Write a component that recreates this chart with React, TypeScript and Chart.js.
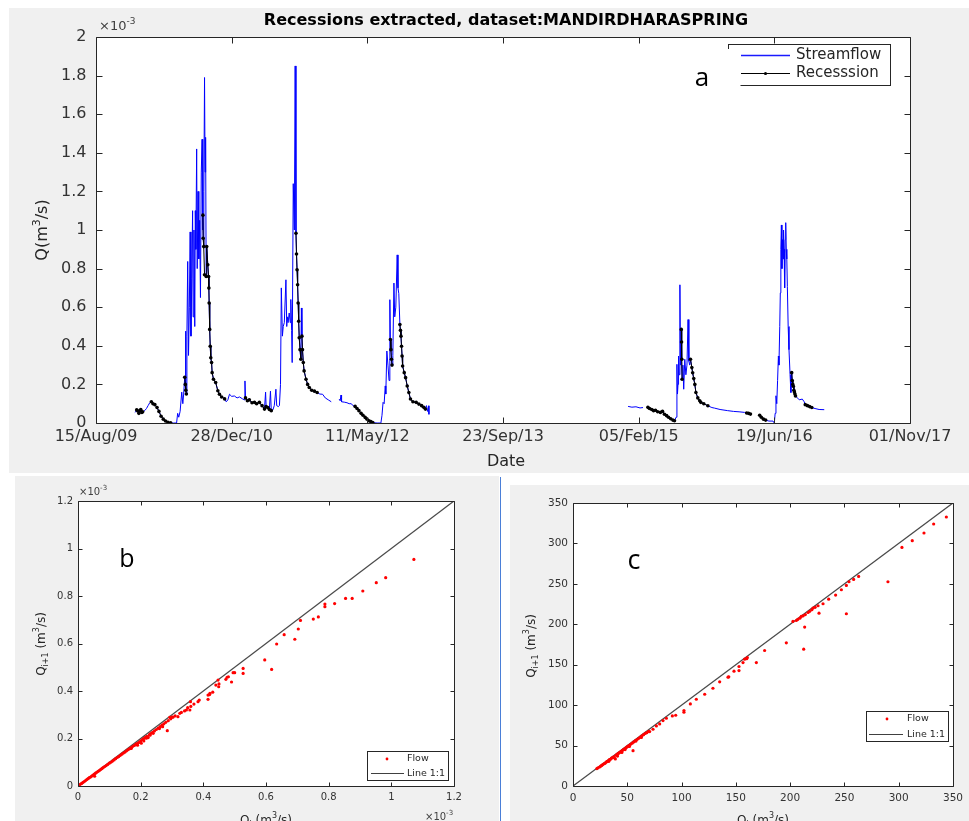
import React, { useEffect, useRef } from 'react';
import { Chart, registerables } from 'chart.js';

Chart.register(...registerables);

const FONT = '"DejaVu Sans", "Liberation Sans", sans-serif';
const LETTER_FONT = '"Open Sans", "Lato", sans-serif';
const AXIS = '#262626';
const TICK_TEXT = '#333333';
const PANEL_BG = '#f0f0f0';

// ---------- Panel a: daily streamflow, x = days since 15/Aug/09, y = Q in 1e-3 m3/s ----------
const dateTickLabels = ['15/Aug/09', '28/Dec/10', '11/May/12', '23/Sep/13', '05/Feb/15', '19/Jun/16', '01/Nov/17'];
const flowTickLabels = ['0', '0.2', '0.4', '0.6', '0.8', '1', '1.2', '1.4', '1.6', '1.8', '2'];

const streamflow: Array<[number, number | null]> = [
  [143, 0.055], [147, 0.06], [150, 0.068], [154, 0.062], [158, 0.05], [162, 0.065], [165, 0.07], [169, 0.055],
  [172, 0.058], [176, 0.06], [180, 0.065], [186, 0.075], [192, 0.09], [198, 0.105], [204, 0.11], [210, 0.1],
  [217, 0.095], [225, 0.08], [232, 0.06], [240, 0.035], [248, 0.02], [256, 0.01], [265, 0.004], [275, 0.001],
  [285, 0], [297, 0], [301, 0.05], [305, 0.03], [310, 0.06], [316, 0.16], [320, 0.1], [323, 0.15],
  [327, 0.237], [329, 0.2], [330, 0.476], [331, 0.17], [333, 0.15], [335, 0.45], [338, 0.837], [341, 0.35],
  [344, 0.6], [347, 0.99], [350, 0.45], [353, 0.75], [356, 1.1], [358, 0.55], [361, 1.0], [364, 0.5],
  [366, 1.1], [368, 0.9], [371, 1.42], [373, 0.8], [376, 1.2], [379, 0.85], [382, 1.05], [385, 0.65],
  [388, 1.3], [391, 1.47], [393, 1.0], [394, 1.077], [395, 0.957], [397, 0.914], [398, 1.2], [400, 1.79],
  [402, 1.3], [404, 1.48], [406, 0.759], [408, 0.914], [412, 0.82], [415, 0.759], [416, 0.699], [417, 0.622],
  [419, 0.485], [421, 0.398], [423, 0.338], [426, 0.313], [428, 0.261], [433, 0.227], [441, 0.21], [449, 0.167],
  [455, 0.149], [463, 0.135], [474, 0.125], [480, 0.11], [486, 0.12], [492, 0.149], [500, 0.138], [510, 0.14],
  [520, 0.13], [529, 0.135], [540, 0.125], [547, 0.12], [549, 0.218], [551, 0.13], [558, 0.115], [565, 0.12],
  [575, 0.105], [584, 0.107], [592, 0.1], [602, 0.107], [612, 0.09], [621, 0.072], [625, 0.16], [627, 0.085],
  [633, 0.08], [639, 0.07], [643, 0.165], [646, 0.064], [652, 0.068], [657, 0.09], [663, 0.175], [666, 0.09],
  [672, 0.085], [676, 0.09], [680, 0.2], [683, 0.7], [687, 0.45], [690, 0.5], [694, 0.52], [700, 0.742],
  [703, 0.5], [705, 0.55], [708, 0.52], [712, 0.57], [716, 0.52], [718, 0.64], [721, 0.48], [723, 0.313],
  [727, 1.24], [731, 1.0], [734, 1.85], [737, 0.983], [739, 0.876], [741, 0.794], [743, 0.716], [745, 0.622],
  [747, 0.527], [749, 0.442], [752, 0.38], [755, 0.33], [757, 0.596], [759, 0.45], [761, 0.38], [764, 0.313],
  [767, 0.27], [774, 0.227], [780, 0.2], [786, 0.184], [795, 0.17], [805, 0.165], [815, 0.158], [825, 0.15],
  [835, 0.149], [845, 0.13], [856, 0.12], [867, 0.11], [880, null],
  [896, 0.124], [900, 0.115], [903, 0.145], [905, 0.11], [915, 0.108], [925, 0.105], [933, 0.1], [940, 0.1],
  [948, 0.09], [955, 0.086], [962, 0.075], [969, 0.064], [977, 0.05], [984, 0.04], [992, 0.029], [999, 0.02],
  [1006, 0.012], [1013, 0.007], [1020, 0.002], [1036, 0], [1050, 0], [1054, 0.04], [1058, 0.107], [1062, 0.1],
  [1066, 0.192], [1068, 0.15], [1072, 0.373], [1076, 0.3], [1080, 0.22], [1083, 0.639], [1085, 0.433], [1087, 0.38],
  [1089, 0.33], [1091, 0.3], [1094, 0.35], [1098, 0.725], [1101, 0.55], [1105, 0.6], [1110, 0.871], [1113, 0.7],
  [1116, 0.67], [1120, 0.51], [1122, 0.48], [1124, 0.45], [1126, 0.398], [1128, 0.347], [1130, 0.295], [1136, 0.261],
  [1141, 0.235], [1147, 0.192], [1153, 0.158], [1159, 0.124], [1168, 0.11], [1180, 0.107], [1190, 0.098], [1200, 0.09],
  [1208, 0.081], [1214, 0.072], [1218, 0.09], [1222, 0.06], [1226, 0.089], [1227, 0.045], [1600, null],
  [1961, 0.086], [1975, 0.082], [1990, 0.084], [2005, 0.078], [2016, 0.08], [2025, null],
  [2034, 0.081], [2040, 0.075], [2048, 0.07], [2055, 0.064], [2062, 0.066], [2070, 0.058], [2080, 0.055], [2088, 0.06],
  [2095, 0.045], [2103, 0.038], [2110, 0.03], [2118, 0.022], [2126, 0.015], [2132, 0.012], [2138, 0.03], [2141, 0.304],
  [2143, 0.15], [2145, 0.2], [2147, 0.347], [2149, 0.25], [2152, 0.716], [2154, 0.3], [2157, 0.485], [2158, 0.42],
  [2159, 0.33], [2160, 0.227], [2163, 0.3], [2166, 0.175], [2170, 0.33], [2174, 0.25], [2178, 0.3], [2182, 0.536],
  [2185, 0.32], [2188, 0.3], [2191, 0.33], [2196, 0.287], [2199, 0.26], [2203, 0.23], [2207, 0.2], [2211, 0.158],
  [2218, 0.13], [2225, 0.115], [2229, 0.107], [2240, 0.1], [2255, 0.089], [2270, 0.08], [2280, 0.077], [2300, 0.07],
  [2328, 0.064], [2350, 0.06], [2370, 0.058], [2390, 0.055], [2398, 0.052], [2405, 0.05], [2412, 0.046], [2430, null],
  [2446, 0.04], [2452, 0.03], [2460, 0.02], [2468, 0.015], [2480, 0.01], [2495, 0.01], [2500, 0], [2503, 0.05],
  [2506, 0.141], [2509, 0.1], [2512, 0.22], [2515, 0.347], [2517, 0.3], [2520, 0.5], [2522, 0.674], [2524, 0.9],
  [2526, 1.026], [2528, 0.8], [2530, 0.95], [2532, 0.85], [2534, 1.0], [2536, 0.9], [2538, 0.7], [2540, 0.95],
  [2542, 1.038], [2544, 0.9], [2546, 0.85], [2548, 0.708], [2551, 0.5], [2554, 0.38], [2558, 0.25], [2561, 0.158],
  [2564, 0.261], [2566, 0.22], [2568, 0.2], [2570, 0.19], [2572, 0.17], [2574, 0.16], [2576, 0.15], [2578, 0.14],
  [2585, 0.13], [2592, 0.12], [2603, 0.124], [2610, 0.11], [2614, 0.095], [2622, 0.09], [2630, 0.085], [2638, 0.08],
  [2650, 0.075], [2665, 0.07], [2684, 0.069],
];

// Extracted recession limbs (null separates the individual recessions)
const recession: Array<[number, number | null]> = [
  [150, 0.068], [154, 0.062], [158, 0.05], [162, 0.065], [165, 0.07], [169, 0.055], [172, 0.058], [188, null],
  [204, 0.11], [210, 0.1], [217, 0.095], [225, 0.08], [232, 0.06], [240, 0.035], [248, 0.02], [256, 0.01],
  [265, 0.004], [275, 0.001], [300, null],
  [327, 0.237], [329, 0.2], [331, 0.17], [333, 0.15], [360, null],
  [394, 1.077], [395, 0.957], [397, 0.914], [400, 0.768], [406, 0.759], [408, 0.914], [412, 0.82], [415, 0.759],
  [416, 0.699], [417, 0.622], [419, 0.485], [421, 0.398], [423, 0.338], [426, 0.313], [428, 0.261], [433, 0.227],
  [441, 0.21], [449, 0.167], [455, 0.149], [463, 0.135], [474, 0.125], [510, null],
  [551, 0.13], [558, 0.115], [565, 0.12], [575, 0.105], [584, 0.107], [592, 0.1], [602, 0.107], [612, 0.09],
  [621, 0.072], [627, 0.085], [633, 0.08], [639, 0.07], [646, 0.064], [700, null],
  [737, 0.983], [739, 0.876], [741, 0.794], [743, 0.716], [745, 0.622], [747, 0.527], [749, 0.442], [752, 0.38],
  [755, 0.33], [757, null],
  [759, 0.45], [761, 0.38], [764, 0.313], [767, 0.27], [774, 0.227], [780, 0.2], [786, 0.184], [795, 0.17],
  [805, 0.165], [815, 0.158], [900, null],
  [955, 0.086], [962, 0.075], [969, 0.064], [977, 0.05], [984, 0.04], [992, 0.029], [999, 0.02], [1006, 0.012],
  [1013, 0.007], [1020, 0.002], [1050, null],
  [1085, 0.433], [1087, 0.38], [1089, 0.33], [1091, 0.3], [1100, null],
  [1120, 0.51], [1122, 0.48], [1124, 0.45], [1126, 0.398], [1128, 0.347], [1130, 0.295], [1136, 0.261], [1141, 0.235],
  [1147, 0.192], [1153, 0.158], [1159, 0.124], [1168, 0.11], [1180, 0.107], [1190, 0.098], [1200, 0.09], [1208, 0.081],
  [1214, 0.072], [1600, null],
  [2034, 0.081], [2040, 0.075], [2048, 0.07], [2055, 0.064], [2062, 0.066], [2070, 0.058], [2080, 0.055], [2088, 0.06],
  [2095, 0.045], [2103, 0.038], [2110, 0.03], [2118, 0.022], [2126, 0.015], [2132, 0.012], [2140, null],
  [2157, 0.485], [2158, 0.42], [2159, 0.33], [2160, 0.227], [2175, null],
  [2191, 0.33], [2196, 0.287], [2199, 0.26], [2203, 0.23], [2207, 0.2], [2211, 0.158], [2218, 0.13], [2225, 0.115],
  [2229, 0.107], [2240, 0.1], [2255, 0.089], [2300, null],
  [2398, 0.052], [2405, 0.05], [2412, 0.046], [2430, null],
  [2446, 0.04], [2452, 0.03], [2460, 0.02], [2468, 0.015], [2500, null],
  [2564, 0.261], [2566, 0.22], [2568, 0.2], [2570, 0.19], [2572, 0.17], [2574, 0.16], [2576, 0.15], [2578, 0.14],
  [2600, null],
  [2614, 0.095], [2622, 0.09], [2630, 0.085], [2638, 0.08],
];

// ---------- Panel b: Q(i) vs Q(i+1), units 1e-3 m3/s ----------
const smallTickLabels = ['0', '0.2', '0.4', '0.6', '0.8', '1', '1.2'];
const pairsSmall: Array<[number, number]> = [
  [1.072, 0.954], [0.982, 0.877], [0.952, 0.856], [0.909, 0.821], [0.875, 0.79], [0.854, 0.79], [0.819, 0.768],
  [0.788, 0.766], [0.788, 0.755], [0.767, 0.712], [0.751, 0.703], [0.71, 0.697], [0.703, 0.661], [0.692, 0.618],
  [0.658, 0.637], [0.634, 0.598], [0.596, 0.531], [0.618, 0.491], [0.527, 0.495], [0.527, 0.474], [0.5, 0.477],
  [0.495, 0.477], [0.49, 0.438], [0.476, 0.458], [0.472, 0.449], [0.449, 0.418], [0.44, 0.425], [0.447, 0.446],
  [0.421, 0.39], [0.415, 0.383], [0.415, 0.365], [0.387, 0.362], [0.383, 0.355], [0.359, 0.355], [0.357, 0.32],
  [0.346, 0.32], [0.325, 0.306], [0.319, 0.292], [0.293, 0.289], [0.285, 0.233], [0.218, 0.201], [0.24, 0.222],
  [0.37, 0.345], [0.36, 0.335], [0.34, 0.316], [0.33, 0.31], [0.31, 0.295], [0.3, 0.29], [0.35, 0.33],
  [0.42, 0.385], [0.43, 0.395], [0.45, 0.43], [0.48, 0.46],
  [0.004, 0.004], [0.008, 0.008], [0.012, 0.011], [0.016, 0.015], [0.02, 0.019], [0.024, 0.023], [0.028, 0.027],
  [0.032, 0.031], [0.036, 0.035], [0.04, 0.038], [0.044, 0.042], [0.048, 0.046], [0.052, 0.05], [0.053, 0.041],
  [0.056, 0.054], [0.06, 0.058], [0.064, 0.062], [0.068, 0.065], [0.072, 0.069], [0.076, 0.073], [0.08, 0.077],
  [0.085, 0.082], [0.09, 0.086], [0.095, 0.091], [0.1, 0.096], [0.105, 0.1], [0.11, 0.105], [0.115, 0.11],
  [0.12, 0.115], [0.125, 0.12], [0.13, 0.124], [0.135, 0.129], [0.14, 0.134], [0.145, 0.139], [0.15, 0.143],
  [0.155, 0.148], [0.16, 0.153], [0.165, 0.157], [0.17, 0.162], [0.175, 0.167], [0.18, 0.171], [0.185, 0.176],
  [0.19, 0.18], [0.195, 0.184], [0.2, 0.19], [0.202, 0.18], [0.206, 0.196], [0.21, 0.2], [0.215, 0.205],
  [0.22, 0.209], [0.224, 0.204], [0.228, 0.216], [0.232, 0.221], [0.238, 0.226], [0.244, 0.232], [0.25, 0.238],
  [0.256, 0.244], [0.262, 0.25], [0.268, 0.256], [0.274, 0.262], [0.28, 0.268], [0.288, 0.275], [0.296, 0.283],
  [0.303, 0.29], [0.17, 0.158], [0.19, 0.172], [0.21, 0.19], [0.23, 0.214], [0.26, 0.242], [0.27, 0.25],
];

// ---------- Panel c: Q(i) vs Q(i+1), m3/s ----------
const largeTickLabels = ['0', '50', '100', '150', '200', '250', '300', '350'];
const pairsLarge: Array<[number, number]> = [
  [343.9, 332.7], [332.2, 324], [323.3, 312.9], [312.5, 303.4], [303, 295.1], [290.1, 252.6], [263.1, 259.2],
  [258.5, 255.5], [254.2, 252.6], [251.8, 248], [247.2, 242.7], [241.9, 236.1], [235.5, 231.1], [230.3, 225.4],
  [225.7, 222.9], [226.6, 213.8], [251.8, 213], [221.1, 220], [216.5, 214.6], [210.3, 209.7], [205.7, 204.7],
  [202.6, 203.5], [213.4, 196.5], [212.5, 169.2], [196.5, 177.1], [176.5, 167.6], [168.9, 152.7], [160.6, 158.9],
  [158.1, 156.8], [156.6, 152.7], [152.9, 147.8], [152.9, 142.8], [148.3, 142], [142.8, 134.6], [135.1, 128.8],
  [128.9, 120.9], [121.3, 113.5], [113.6, 107.3], [108.1, 101.5], [102.2, 93.3], [102.2, 91.2], [94.6, 87.5],
  [91.5, 86.7], [86, 83.8], [82.9, 80.9], [79.8, 76.8], [76.8, 74.3], [73.7, 70.2], [70.6, 67.3], [55.3, 43.7],
  [207, 206], [209, 207.5], [212, 210.5], [214, 212], [218, 216], [220, 218], [223, 221], [143.5, 135], [160, 157.5],
  [22, 21.5], [23, 22.5], [24.5, 23.5], [25.5, 24.5], [26.5, 25.5], [27.5, 26.5], [28.5, 27.5], [29.5, 28],
  [30.5, 29.5], [31.5, 30.5], [32.5, 31], [33.5, 32.5], [34.5, 33], [35.5, 34.5], [36.5, 35], [37.5, 36],
  [39, 33.5], [39.5, 38], [40.5, 39], [41.5, 40], [42.5, 41], [43.5, 42], [44.5, 43], [45.5, 44], [46.5, 45],
  [47.5, 46], [48.5, 47], [49.5, 48], [50.5, 49], [51.5, 50], [53, 51.5], [54.5, 53], [56, 54.5], [57.5, 56],
  [59, 57.5], [60.5, 59], [62, 60.5], [63.5, 62], [65, 63.5], [66.5, 65], [68, 66], [69.5, 67.5], [41, 37],
  [45, 41.5], [38, 35], [33, 30.5], [48, 45], [52, 49], [58, 55.5], [63, 60],
];

// ---------- drawing helpers ----------
type Part = { t: string; s: number; dy?: number; bold?: boolean; fam?: string };
type TextItem = { parts: Part[]; x: number; y: number; align: 'left' | 'center' | 'right'; rot?: number; color?: string };

function drawRich(ctx: CanvasRenderingContext2D, item: TextItem) {
  const fontOf = (p: Part) => `${p.bold ? 'bold ' : ''}${p.s}px ${p.fam ?? FONT}`;
  ctx.save();
  ctx.translate(item.x, item.y);
  if (item.rot) ctx.rotate(item.rot);
  ctx.fillStyle = item.color ?? AXIS;
  ctx.textBaseline = 'middle';
  ctx.textAlign = 'left';
  let w = 0;
  for (const p of item.parts) {
    ctx.font = fontOf(p);
    w += ctx.measureText(p.t).width;
  }
  let cx = item.align === 'left' ? 0 : item.align === 'center' ? -w / 2 : -w;
  for (const p of item.parts) {
    ctx.font = fontOf(p);
    ctx.fillText(p.t, cx, p.dy ?? 0);
    cx += ctx.measureText(p.t).width;
  }
  ctx.restore();
}

const textPlugin = (id: string, items: TextItem[]) => ({
  id,
  afterDraw(chart: Chart) {
    for (const it of items) drawRich(chart.ctx, it);
  },
});

// White plot area plus a boxed frame with inward tick marks on all four sides
const framePlugin = (tickLen: number) => ({
  id: 'boxedAxes',
  beforeDraw(chart: Chart) {
    const { ctx, chartArea: a } = chart;
    ctx.save();
    ctx.fillStyle = '#ffffff';
    ctx.fillRect(a.left, a.top, a.right - a.left, a.bottom - a.top);
    ctx.restore();
  },
  afterDraw(chart: Chart) {
    const { ctx, chartArea: a } = chart;
    const xs = chart.scales.x;
    const ys = chart.scales.y;
    const L = Math.round(a.left) + 0.5;
    const R = Math.round(a.right) + 0.5;
    const T = Math.round(a.top) + 0.5;
    const B = Math.round(a.bottom) + 0.5;
    ctx.save();
    ctx.strokeStyle = AXIS;
    ctx.lineWidth = 1;
    ctx.beginPath();
    ctx.rect(L, T, R - L, B - T);
    for (const t of xs.ticks) {
      const p = Math.round(xs.getPixelForValue(t.value)) + 0.5;
      ctx.moveTo(p, B);
      ctx.lineTo(p, B - tickLen);
      ctx.moveTo(p, T);
      ctx.lineTo(p, T + tickLen);
    }
    for (const t of ys.ticks) {
      const p = Math.round(ys.getPixelForValue(t.value)) + 0.5;
      ctx.moveTo(L, p);
      ctx.lineTo(L + tickLen, p);
      ctx.moveTo(R, p);
      ctx.lineTo(R - tickLen, p);
    }
    ctx.stroke();
    ctx.restore();
  },
});

type LegendEntry = { mark: 'line' | 'dot' | 'linedot'; color: string; width: number; x1: number; x2: number; y: number; text: string; tx: number; size: number; r: number };
type LegendSpec = { box: [number, number, number, number]; cover?: [number, number, number, number]; entries: LegendEntry[] };

const legendPlugin = (spec: LegendSpec) => ({
  id: 'boxLegend',
  afterDraw(chart: Chart) {
    const ctx = chart.ctx;
    const [bx, by, bw, bh] = spec.box;
    ctx.save();
    ctx.fillStyle = '#ffffff';
    ctx.fillRect(bx, by, bw, bh);
    ctx.strokeStyle = AXIS;
    ctx.lineWidth = 1;
    ctx.strokeRect(bx, by, bw, bh);
    if (spec.cover) {
      const [cx, cy, cw, ch] = spec.cover;
      ctx.fillStyle = '#ffffff';
      ctx.fillRect(cx, cy, cw, ch);
    }
    for (const e of spec.entries) {
      if (e.mark !== 'dot') {
        ctx.strokeStyle = e.color;
        ctx.lineWidth = e.width;
        ctx.beginPath();
        ctx.moveTo(e.x1, e.y);
        ctx.lineTo(e.x2, e.y);
        ctx.stroke();
      }
      if (e.mark !== 'line') {
        ctx.fillStyle = e.color;
        ctx.beginPath();
        ctx.arc((e.x1 + e.x2) / 2, e.y, e.r, 0, Math.PI * 2);
        ctx.fill();
      }
      ctx.fillStyle = AXIS;
      ctx.font = `${e.size}px ${FONT}`;
      ctx.textAlign = 'left';
      ctx.textBaseline = 'middle';
      ctx.fillText(e.text, e.tx, e.y);
    }
    ctx.restore();
  },
});

function linearAxis(o: {
  min: number; max: number; step: number; labels: string[]; size: number; pad: number; fit: number; horizontal: boolean;
}) {
  return {
    type: 'linear' as const,
    min: o.min,
    max: o.max,
    ticks: {
      stepSize: o.step,
      autoSkip: false,
      maxRotation: 0,
      minRotation: 0,
      padding: o.pad,
      color: TICK_TEXT,
      font: { family: FONT, size: o.size },
      callback: (v: number | string) => o.labels[Math.round((Number(v) - o.min) / o.step)] ?? '',
    },
    grid: { display: false, drawTicks: false },
    border: { display: false },
    afterFit: (s: any) => {
      if (o.horizontal) s.height = o.fit;
      else s.width = o.fit;
    },
  };
}

const toPoints = (rows: Array<[number, number | null]>) => rows.map(([x, y]) => ({ x, y }));

function timeSeriesConfig(): any {
  const subtitleColor = '#404040';
  const texts: TextItem[] = [
    { parts: [{ t: 'Recessions extracted, dataset:MANDIRDHARASPRING', s: 16, bold: true }], x: 497, y: 13, align: 'center', color: '#000' },
    { parts: [{ t: '×10', s: 13 }, { t: '-3', s: 9, dy: -5 }], x: 90, y: 19, align: 'left', color: subtitleColor },
    { parts: [{ t: 'Q(m', s: 16 }, { t: '3', s: 11, dy: -6 }, { t: '/s)', s: 16 }], x: 34, y: 222, align: 'center', rot: -Math.PI / 2 },
    { parts: [{ t: 'Date', s: 16 }], x: 497, y: 454, align: 'center' },
    { parts: [{ t: 'a', s: 26, fam: LETTER_FONT }], x: 693, y: 71, align: 'center', color: '#000' },
  ];
  const legend: LegendSpec = {
    box: [719.5, 36.5, 162, 41],
    cover: [681, 41, 50.5, 52],
    entries: [
      { mark: 'line', color: '#1a1aff', width: 1.6, x1: 732, x2: 781, y: 47.5, text: 'Streamflow', tx: 787, size: 15, r: 0 },
      { mark: 'linedot', color: '#000000', width: 1, x1: 732, x2: 781, y: 65.5, text: 'Recesssion', tx: 787, size: 15, r: 1.6 },
    ],
  };
  return {
    type: 'line',
    data: {
      datasets: [
        {
          label: 'Recesssion',
          data: toPoints(recession),
          borderColor: '#000000',
          backgroundColor: '#000000',
          borderWidth: 1,
          pointRadius: 1.8,
          pointBorderWidth: 0,
          pointBackgroundColor: '#000000',
          spanGaps: false,
          tension: 0,
        },
        {
          label: 'Streamflow',
          data: toPoints(streamflow),
          borderColor: '#0000ff',
          borderWidth: 1,
          pointRadius: 0,
          spanGaps: false,
          tension: 0,
        },
      ],
    },
    options: {
      animation: false,
      responsive: false,
      events: [],
      layout: { padding: { left: 0, right: 59, top: 29, bottom: 0 } },
      plugins: { legend: { display: false }, tooltip: { enabled: false }, title: { display: false } },
      scales: {
        x: linearAxis({ min: 0, max: 3000, step: 500, labels: dateTickLabels, size: 16, pad: 4, fit: 50, horizontal: true }),
        y: linearAxis({ min: 0, max: 2, step: 0.2, labels: flowTickLabels, size: 16, pad: 9.5, fit: 87, horizontal: false }),
      },
    },
    plugins: [framePlugin(6), legendPlugin(legend), textPlugin('figureText', texts)],
  };
}

type ScatterSpec = {
  pairs: Array<[number, number]>;
  max: number; step: number; labels: string[]; tickSize: number;
  xPad: number; yPad: number; padRight: number; padTop: number; yFit: number; xFit: number;
  texts: TextItem[]; legend: LegendSpec;
};

function scatterConfig(s: ScatterSpec): any {
  return {
    type: 'scatter',
    data: {
      datasets: [
        {
          label: 'Flow',
          data: s.pairs.map(([x, y]) => ({ x, y })),
          backgroundColor: '#ff0000',
          borderWidth: 0,
          pointRadius: 1.6,
          pointBorderWidth: 0,
        },
        {
          label: 'Line 1:1',
          data: [{ x: 0, y: 0 }, { x: s.max, y: s.max }],
          showLine: true,
          borderColor: '#4a4a4a',
          borderWidth: 1.3,
          pointRadius: 0,
        },
      ],
    },
    options: {
      animation: false,
      responsive: false,
      events: [],
      layout: { padding: { left: 0, right: s.padRight, top: s.padTop, bottom: 0 } },
      plugins: { legend: { display: false }, tooltip: { enabled: false }, title: { display: false } },
      scales: {
        x: linearAxis({ min: 0, max: s.max, step: s.step, labels: s.labels, size: s.tickSize, pad: s.xPad, fit: s.xFit, horizontal: true }),
        y: linearAxis({ min: 0, max: s.max, step: s.step, labels: s.labels, size: s.tickSize, pad: s.yPad, fit: s.yFit, horizontal: false }),
      },
    },
    plugins: [framePlugin(4), legendPlugin(s.legend), textPlugin('figureText', s.texts)],
  };
}

const qNextTitle = (x: number, y: number): TextItem => ({
  parts: [{ t: 'Q', s: 12 }, { t: 'i+1', s: 8, dy: 4 }, { t: ' (m', s: 12 }, { t: '3', s: 8, dy: -5 }, { t: '/s)', s: 12 }],
  x, y, align: 'center', rot: -Math.PI / 2,
});
const qTitle = (x: number, y: number): TextItem => ({
  parts: [{ t: 'Q', s: 12 }, { t: 'i', s: 8, dy: 4 }, { t: ' (m', s: 12 }, { t: '3', s: 8, dy: -5 }, { t: '/s)', s: 12 }],
  x, y, align: 'center',
});
const expLabel = (x: number, y: number): TextItem => ({
  parts: [{ t: '×10', s: 10 }, { t: '-3', s: 7, dy: -4 }], x, y, align: 'left', color: '#404040',
});

const panelB: ScatterSpec = {
  pairs: pairsSmall,
  max: 1.2, step: 0.2, labels: smallTickLabels, tickSize: 10,
  xPad: 5, yPad: 5, padRight: 45, padTop: 25, yFit: 63, xFit: 35,
  texts: [
    expLabel(64, 16),
    expLabel(410, 341),
    qNextTitle(27, 168),
    qTitle(251, 345),
    { parts: [{ t: 'b', s: 25, fam: LETTER_FONT }], x: 112, y: 84, align: 'center', color: '#000' },
  ],
  legend: {
    box: [352.5, 275.5, 81, 29],
    entries: [
      { mark: 'dot', color: '#ff0000', width: 1, x1: 372, x2: 372, y: 283, text: 'Flow', tx: 392, size: 9.5, r: 1.4 },
      { mark: 'line', color: '#404040', width: 1.2, x1: 356, x2: 389, y: 297.5, text: 'Line 1:1', tx: 392, size: 9.5, r: 0 },
    ],
  },
};

const panelC: ScatterSpec = {
  pairs: pairsLarge,
  max: 350, step: 50, labels: largeTickLabels, tickSize: 10.5,
  xPad: 6, yPad: 5, padRight: 16, padTop: 18, yFit: 63, xFit: 35,
  texts: [
    qNextTitle(22, 161),
    qTitle(253, 336),
    { parts: [{ t: 'c', s: 27, fam: LETTER_FONT }], x: 124, y: 76, align: 'center', color: '#000' },
  ],
  legend: {
    box: [356.5, 226.5, 82, 30],
    entries: [
      { mark: 'dot', color: '#ff0000', width: 1, x1: 377, x2: 377, y: 234, text: 'Flow', tx: 397, size: 9.5, r: 1.4 },
      { mark: 'line', color: '#404040', width: 1.2, x1: 359, x2: 393, y: 249.5, text: 'Line 1:1', tx: 397, size: 9.5, r: 0 },
    ],
  },
};

export default function App() {
  const topRef = useRef<HTMLCanvasElement>(null);
  const bRef = useRef<HTMLCanvasElement>(null);
  const cRef = useRef<HTMLCanvasElement>(null);

  useEffect(() => {
    const charts = [
      new Chart(topRef.current!, timeSeriesConfig()),
      new Chart(bRef.current!, scatterConfig(panelB)),
      new Chart(cRef.current!, scatterConfig(panelC)),
    ];
    return () => charts.forEach((c) => c.destroy());
  }, []);

  return (
    <div style={{ position: 'fixed', left: 0, top: 0, width: 969, height: 821, overflow: 'hidden', background: '#ffffff' }}>
      <canvas ref={topRef} width={960} height={465} style={{ position: 'absolute', left: 9, top: 8, background: PANEL_BG }} />
      <canvas ref={bRef} width={484} height={345} style={{ position: 'absolute', left: 15, top: 476, background: PANEL_BG }} />
      <div style={{ position: 'absolute', left: 500, top: 477, width: 1, height: 344, background: '#4a7fd8' }} />
      <canvas ref={cRef} width={459} height={336} style={{ position: 'absolute', left: 510, top: 485, background: PANEL_BG }} />
    </div>
  );
}
